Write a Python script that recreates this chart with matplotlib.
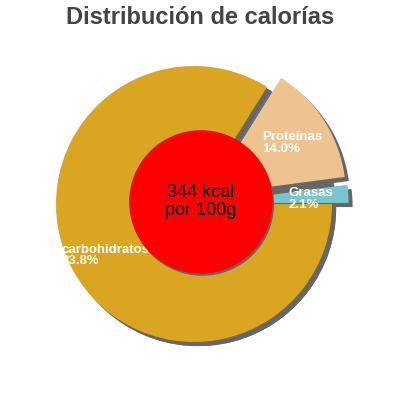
import matplotlib.pyplot as plt
import numpy as np

plt.rcParams['font.family'] = ['Liberation Sans', 'DejaVu Sans']

# Data
labels = ['Proteínas', 'Grasas', 'carbohidratos']
percents = [14.0, 2.1, 83.8]
colors = ['#EEC390', '#78C5CC', '#DAA520']
explode = [0.12, 0.12, 0.0]
kcal_text = '344 kcal\npor 100g'
title = 'Distribución de calorías'

fig = plt.figure(figsize=(4, 4), dpi=100)
ax = fig.add_axes([0, 0, 1, 1])

start = 58
# shadow layers (plain and exploded) so the gaps show grey
for expl in ([0, 0, 0], explode):
    ax.pie(percents, explode=expl, colors=['#666666'] * 3, startangle=start,
           counterclock=False, center=(0.03, -0.03), radius=1.0,
           wedgeprops=dict(linewidth=0))
wedges, _ = ax.pie(percents, explode=explode, colors=colors, startangle=start,
                   counterclock=False, radius=1.0,
                   wedgeprops=dict(linewidth=0))

# labels inside the slices
for w, name, pct in zip(wedges, labels, percents):
    mid = np.deg2rad((w.theta1 + w.theta2) / 2)
    cx, cy = w.center
    x = cx + 0.73 * w.r * np.cos(mid)
    y = cy + 0.73 * w.r * np.sin(mid)
    ax.text(x, y - 0.02, f'{name}\n{pct:.1f}%', color='white', fontsize=9.5,
            fontweight='bold', ha='center', va='center',
            multialignment='left', linespacing=0.95)

# centre circle
ax.add_patch(plt.Circle((0.06, 0.0), 0.515, color='#666666', zorder=3))
ax.add_patch(plt.Circle((0.05, 0.015), 0.515, color='#FF0000', zorder=4))
ax.text(0.045, 0.02, kcal_text, fontsize=13, color='black', ha='center',
        va='center', linespacing=1.1, zorder=5)

ax.set_xlim(-194 / 138, 206 / 138)
ax.set_ylim(-196 / 138, 204 / 138)
ax.set_aspect('equal')
ax.axis('off')

fig.text(0.5, 1 - 17 / 400, title, fontsize=17, fontweight='bold',
         color='#444444', ha='center', va='center')

fig.savefig('out.png', dpi=100)
